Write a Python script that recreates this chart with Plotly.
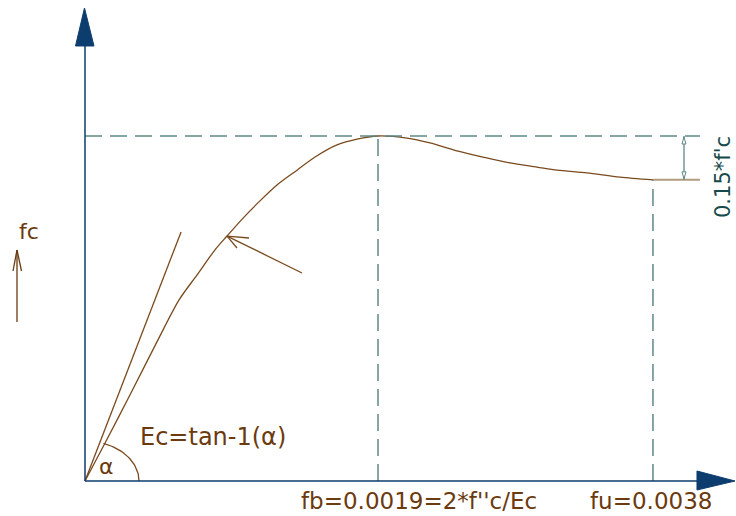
import numpy as np
import plotly.graph_objects as go

# ---------------- data (strain in 1e-3, stress as ratio of f''c) ----------------
strain_milli = [0, 0.130, 0.298, 0.473, 0.610, 0.726, 0.843, 0.921, 1.025, 1.128,
                1.245, 1.375, 1.492, 1.634, 1.764, 1.900, 2.088, 2.237, 2.412, 2.581,
                2.756, 2.931, 3.061, 3.255, 3.469, 3.683]
stress_ratio = [0, 0.110, 0.255, 0.409, 0.525, 0.597, 0.670, 0.710, 0.762, 0.809,
                0.858, 0.901, 0.939, 0.974, 0.991, 1.000, 0.994, 0.980, 0.957, 0.939,
                0.922, 0.910, 0.901, 0.893, 0.881, 0.873]
tangent_strain = [0, 0.623]
tangent_stress = [0, 0.722]
peak_strain = 1.900          # fb
ult_strain = 3.683           # fu (as drawn)
peak_stress = 1.000
ult_stress = 0.873
x_labels = ["fb=0.0019=2*f''c/Ec", "fu=0.0038"]
drop_label = "0.15*f'c"
y_label = "fc"
ec_label = "Ec=tan-1(\u03b1)"

# ---------------- geometry helpers ----------------
W, H = 736, 516
OX, OY = 85, 481          # origin in pixels
XS, YS = 154.21, 345.0    # pixels per unit
xr = [(0 - OX) / XS, (W - OX) / XS]
yr = [(OY - H) / YS, (OY - 0) / YS]

def px2x(px):
    return (px - OX) / XS

def py2y(py):
    return (OY - py) / YS

def pp(px, py):
    return px / W, 1 - py / H

BROWN = "#7a4a1e"
TBROWN = "#6b3a0e"
DASH = "#5f8888"
BLUE = "#0d3d6e"
TEAL = "#174a4a"
TAN = "#b39b80"

fig = go.Figure()

# main curve
fig.add_trace(go.Scatter(x=strain_milli, y=stress_ratio, mode="lines",
                         line=dict(color=BROWN, width=1.3, shape="spline", smoothing=0.8),
                         hoverinfo="skip"))
# tangent line
fig.add_trace(go.Scatter(x=tangent_strain, y=tangent_stress, mode="lines",
                         line=dict(color=BROWN, width=1.3), hoverinfo="skip"))

# alpha arc (decoration)
th = np.linspace(0, np.radians(70), 30)
arc_px = OX + 54 * np.cos(th)
arc_py = OY - 40 * np.sin(th)
fig.add_trace(go.Scatter(x=px2x(arc_px), y=py2y(arc_py), mode="lines",
                         line=dict(color=BROWN, width=1.3), hoverinfo="skip"))

# pointer arrow to curve
tip_x, tip_y = strain_milli[7], stress_ratio[7]
tail_x, tail_y = px2x(302), py2y(273)
fig.add_trace(go.Scatter(x=[tail_x, tip_x], y=[tail_y, tip_y], mode="lines",
                         line=dict(color=BROWN, width=1.3), hoverinfo="skip"))
for bx, by in [(249, 238), (237, 248)]:
    fig.add_trace(go.Scatter(x=[tip_x, px2x(bx)], y=[tip_y, py2y(by)], mode="lines",
                             line=dict(color=BROWN, width=1.3), hoverinfo="skip"))

shapes = []
dash = "17px,8px"
# dashed reference lines
shapes.append(dict(type="line", xref="x", yref="y", x0=0, x1=px2x(700),
                   y0=peak_stress, y1=peak_stress, line=dict(color=DASH, width=1.5, dash=dash)))
shapes.append(dict(type="line", xref="x", yref="y", x0=peak_strain, x1=peak_strain,
                   y0=0, y1=peak_stress, line=dict(color=DASH, width=1.5, dash=dash)))
shapes.append(dict(type="line", xref="x", yref="y", x0=ult_strain, x1=ult_strain,
                   y0=0, y1=ult_stress, line=dict(color=DASH, width=1.5, dash=dash)))
# extension line at ultimate stress
shapes.append(dict(type="line", xref="x", yref="y", x0=ult_strain, x1=px2x(700),
                   y0=ult_stress, y1=ult_stress, line=dict(color=TAN, width=2)))
# dimension line for 0.15 f'c
dx = px2x(684)
shapes.append(dict(type="line", xref="x", yref="y", x0=dx, x1=dx,
                   y0=peak_stress, y1=ult_stress, line=dict(color=DASH, width=1.3)))

def tri_path(pts):
    return "M " + " L ".join(f"{a:.4f},{b:.4f}" for a, b in pts) + " Z"

ty = OY - peak_stress * YS
by_ = OY - ult_stress * YS
top_tri = [pp(684, ty + 1), pp(682, ty + 8), pp(686, ty + 8)]
bot_tri = [pp(684, by_ - 1), pp(682, by_ - 8), pp(686, by_ - 8)]
for t in (top_tri, bot_tri):
    shapes.append(dict(type="path", xref="paper", yref="paper", path=tri_path(t),
                       fillcolor="white", line=dict(color=DASH, width=1)))

# axes
shapes.append(dict(type="line", xref="paper", yref="paper",
                   x0=pp(85, 0)[0], x1=pp(85, 0)[0], y0=pp(0, 481)[1], y1=pp(0, 45)[1],
                   line=dict(color=BLUE, width=1.5)))
shapes.append(dict(type="line", xref="paper", yref="paper",
                   x0=pp(85, 0)[0], x1=pp(698, 0)[0], y0=pp(0, 481)[1], y1=pp(0, 481)[1],
                   line=dict(color=BLUE, width=1.5)))
shapes.append(dict(type="path", xref="paper", yref="paper",
                   path=tri_path([pp(84.5, 8), pp(75.5, 46), pp(94, 46)]),
                   fillcolor=BLUE, line=dict(color=BLUE, width=1)))
shapes.append(dict(type="path", xref="paper", yref="paper",
                   path=tri_path([pp(697, 471), pp(735, 481), pp(697, 490)]),
                   fillcolor=BLUE, line=dict(color=BLUE, width=1)))
# fc arrow
shapes.append(dict(type="line", xref="paper", yref="paper",
                   x0=pp(17, 0)[0], x1=pp(17, 0)[0], y0=pp(0, 322)[1], y1=pp(0, 250)[1],
                   line=dict(color=TBROWN, width=1.3)))
for bx in (13, 21.5):
    shapes.append(dict(type="line", xref="paper", yref="paper",
                       x0=pp(17, 0)[0], x1=pp(bx, 0)[0], y0=pp(0, 250)[1], y1=pp(0, 271)[1],
                       line=dict(color=TBROWN, width=1.3)))

ann = []
FONT = "DejaVu Sans"
def text(s, px, py, size, color, xa="center", ya="middle", angle=0):
    x, y = pp(px, py)
    ann.append(dict(text=s, x=x, y=y, xref="paper", yref="paper", showarrow=False,
                    xanchor=xa, yanchor=ya, textangle=angle,
                    font=dict(family=FONT, size=size, color=color)))

text(x_labels[0], 419, 501, 23, TBROWN)
text(x_labels[1], 651, 501, 23, TBROWN)
text(y_label, 29, 231, 22, TBROWN)
text(ec_label, 213, 437, 24, TBROWN)
text("\u03b1", 106, 466, 22, TBROWN)
text(drop_label, 723, 177, 21, TEAL, angle=-90)

fig.update_layout(
    width=W, height=H, autosize=False,
    margin=dict(l=0, r=0, t=0, b=0),
    paper_bgcolor="white", plot_bgcolor="white",
    showlegend=False,
    xaxis=dict(range=xr, visible=False, showgrid=False, zeroline=False, fixedrange=True),
    yaxis=dict(range=yr, visible=False, showgrid=False, zeroline=False, fixedrange=True),
    shapes=shapes, annotations=ann,
)

fig.write_html("out.html", config={"displayModeBar": False},
               post_script="document.body.style.margin='0';document.body.style.padding='0';")
